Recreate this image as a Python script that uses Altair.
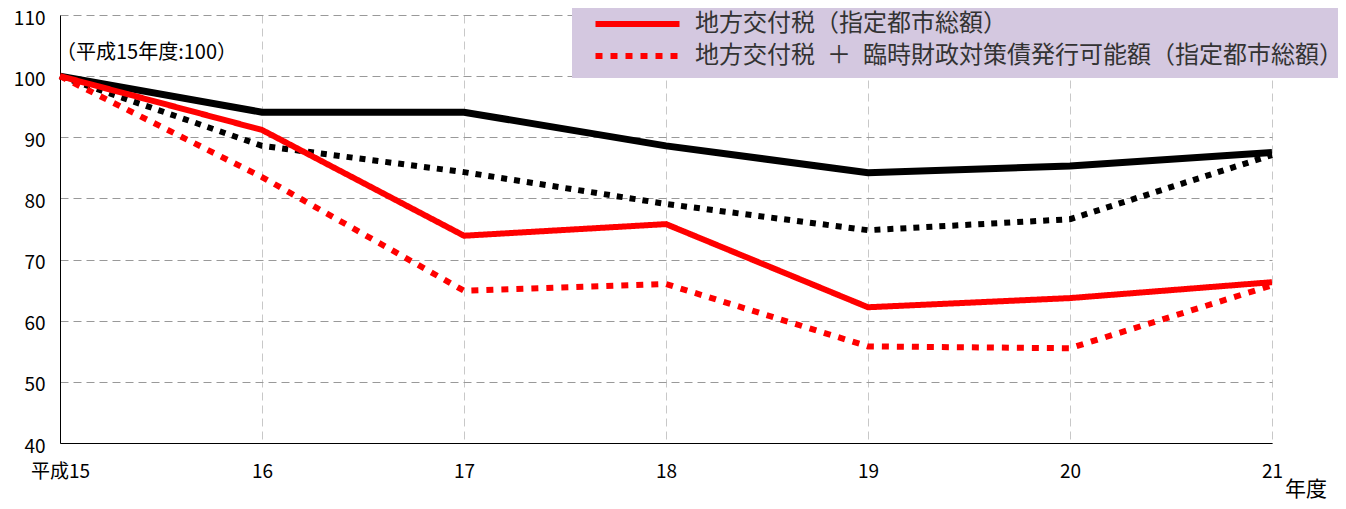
import altair as alt
import pandas as pd

years = ["平成15", "16", "17", "18", "19", "20", "21"]
black_solid = [100, 94.1, 94.1, 88.6, 84.2, 85.3, 87.5]
black_dot = [100, 88.6, 84.3, 79.1, 74.8, 76.6, 87.1]
red_solid = [100, 91.2, 73.9, 75.8, 62.2, 63.7, 66.3]
red_dot = [100, 83.5, 64.9, 66.0, 55.8, 55.5, 65.8]

name_bs = "地方交付税（全国総額）"
name_bd = "地方交付税＋臨時財政対策債発行可能額（全国総額）"
name_rs = "地方交付税（指定都市総額）"
name_rd = "地方交付税\u2002＋\u2002臨時財政対策債発行可能額（指定都市総額）"

series = [(name_bs, black_solid), (name_bd, black_dot), (name_rs, red_solid), (name_rd, red_dot)]
rows = []
for name, vals in series:
    for yr, v in zip(years, vals):
        rows.append({"year": yr, "value": v, "series": name})
df = pd.DataFrame(rows)

FONT = "Noto Sans CJK JP"

x_enc = alt.X(
    "year:O", sort=years,
    scale=alt.Scale(type="point", padding=0),
    axis=alt.Axis(title=None, labelAngle=0, ticks=False, labelPadding=19, labelFontSize=19,
                  labelFont=FONT, labelColor="black", grid=True, gridColor="#c8c8c8",
                  gridDash=[8, 5], domainColor="black", domainWidth=1),
)
y_enc = alt.Y(
    "value:Q",
    scale=alt.Scale(domain=[40, 110], nice=False, zero=False),
    axis=alt.Axis(title=None, values=[40, 50, 60, 70, 80, 90, 100, 110], ticks=False,
                  labelPadding=15, labelFontSize=19, labelFont=FONT, labelColor="black",
                  labelOffset=3, grid=True, gridColor="#999999", gridDash=[8, 5],
                  domainColor="black", domainWidth=1),
)

base = alt.Chart(df)

bs = base.transform_filter(alt.datum.series == name_bs).mark_line(
    color="black", strokeWidth=7, strokeJoin="miter").encode(x=x_enc, y=y_enc)
bd = base.transform_filter(alt.datum.series == name_bd).mark_line(
    color="black", strokeWidth=6, strokeDash=[6, 7]).encode(x=x_enc, y=y_enc)

red = base.transform_filter(
    (alt.datum.series == name_rs) | (alt.datum.series == name_rd)
).mark_line(color="#ff0000", strokeWidth=6).encode(
    x=x_enc, y=y_enc,
    strokeDash=alt.StrokeDash(
        "series:N",
        scale=alt.Scale(domain=[name_rs, name_rd], range=[[1, 0], [7, 8]]),
        legend=alt.Legend(
            title=None, orient="none", legendX=512, legendY=-18,
            fillColor="#d4c8e0", padding=10, labelFontSize=24, labelFont=FONT,
            labelColor="#333333", symbolType="M-0.25,0H5.75", symbolSize=784,
            symbolStrokeWidth=6, symbolStrokeColor="#ff0000",
            labelOffset=79, rowPadding=3, labelLimit=0,
        ),
    ),
)

note = alt.Chart(alt.Data(values=[{}])).mark_text(
    text="（平成15年度:100）", align="left", baseline="middle", fontSize=20,
    font=FONT, color="black").encode(x=alt.value(-4), y=alt.value(38))

unit = alt.Chart(alt.Data(values=[{}])).mark_text(
    text="年度", align="center", baseline="middle", fontSize=21,
    font=FONT, color="black").encode(x=alt.value(1246), y=alt.value(475))

chart = alt.layer(bs, bd, red, note, unit).properties(
    width=1212, height=428,
    autosize=alt.AutoSizeParams(type="none"),
    padding={"left": 52, "top": 7, "right": 66, "bottom": 58},
).configure_view(stroke=None)

chart.save("out.html", embed_options={"renderer": "svg", "actions": False})
